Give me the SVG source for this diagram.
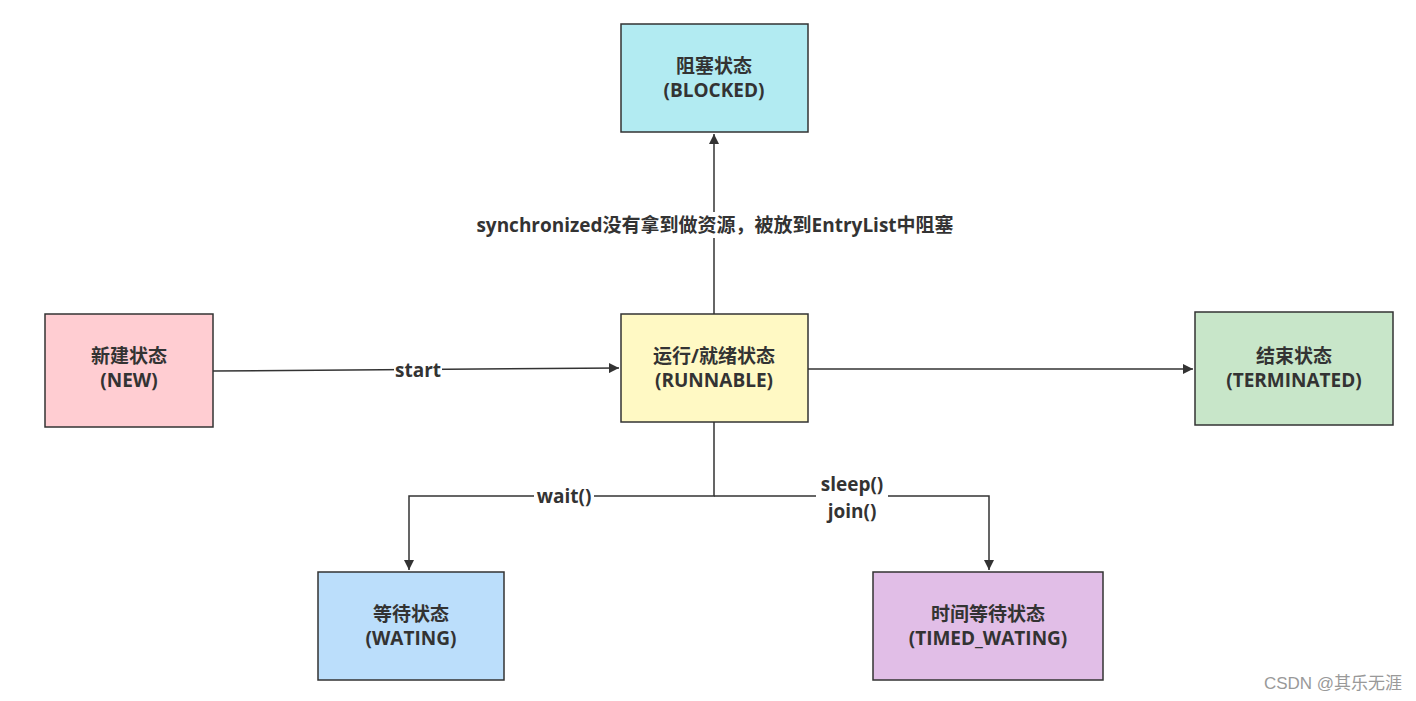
<svg xmlns="http://www.w3.org/2000/svg" width="1416" height="701" viewBox="0 0 1416 701">
<defs>
<marker id="arr" viewBox="0 0 10 10" refX="10" refY="5" markerWidth="10" markerHeight="10" markerUnits="userSpaceOnUse" orient="auto">
<path d="M0,0 L10,5 L0,10 z" fill="#333"/>
</marker>
<style>
.box{stroke:#333;stroke-width:1.5}
.t{font-family:"Open Sans","Noto Sans CJK SC",sans-serif;font-weight:bold;font-size:19px;fill:#333;text-anchor:middle}
.ln{fill:none;stroke:#333;stroke-width:1.5}
.lbl{font-family:"Open Sans","Noto Sans CJK SC",sans-serif;font-weight:bold;font-size:19px;fill:#333;text-anchor:middle}
.bg{fill:#fff}
</style>
</defs>
<rect width="1416" height="701" fill="#fff"/>
<g id="connectors">
<path class="ln" d="M213,371 L619,368" marker-end="url(#arr)"/>
<path class="ln" d="M808,369 L1193,369" marker-end="url(#arr)"/>
<path class="ln" d="M714,314 L714,134" marker-end="url(#arr)"/>
<path class="ln" d="M714,422 L714,496 L409,496 L409,570" marker-end="url(#arr)"/>
<path class="ln" d="M714,496 L989,496 L989,570" marker-end="url(#arr)"/>
<rect class="bg" x="394" y="359" width="48" height="24"/>
<text class="lbl" x="418" y="377">start</text>
<rect class="bg" x="470" y="212" width="490" height="26"/>
<text class="lbl" x="715" y="232">synchronized没有拿到做资源，被放到EntryList中阻塞</text>
<rect class="bg" x="534" y="485" width="60" height="24"/>
<text class="lbl" x="564" y="503">wait()</text>
<rect class="bg" x="816" y="473" width="72" height="50"/>
<text class="lbl" x="852" y="491" font-size="18">sleep()</text>
<text class="lbl" x="852" y="518" font-size="18">join()</text>
</g>
<g id="blocked">
<rect class="box" x="621" y="24" width="187" height="108" fill="#b2ebf2"/>
<text class="t" x="714" y="73">阻塞状态</text>
<text class="t" x="714" y="97">(BLOCKED)</text>
</g>
<g id="new">
<rect class="box" x="45" y="314" width="168" height="113" fill="#ffcdd2"/>
<text class="t" x="129" y="363">新建状态</text>
<text class="t" x="129" y="387">(NEW)</text>
</g>
<g id="runnable">
<rect class="box" x="621" y="314" width="187" height="108" fill="#fff9c4"/>
<text class="t" x="714" y="363">运行/就绪状态</text>
<text class="t" x="714" y="387">(RUNNABLE)</text>
</g>
<g id="terminated">
<rect class="box" x="1195" y="312" width="198" height="113" fill="#c8e6c9"/>
<text class="t" x="1294" y="363">结束状态</text>
<text class="t" x="1294" y="387">(TERMINATED)</text>
</g>
<g id="waiting">
<rect class="box" x="318" y="572" width="186" height="108" fill="#bbdefb"/>
<text class="t" x="411" y="621">等待状态</text>
<text class="t" x="411" y="645">(WATING)</text>
</g>
<g id="timed_waiting">
<rect class="box" x="873" y="572" width="230" height="108" fill="#e1bee7"/>
<text class="t" x="988" y="621">时间等待状态</text>
<text class="t" x="988" y="645">(TIMED_WATING)</text>
</g>
<text x="1333" y="689" font-family="Liberation Sans,Noto Sans CJK SC,sans-serif" font-size="17" fill="#999" text-anchor="middle">CSDN @其乐无涯</text>
</svg>
